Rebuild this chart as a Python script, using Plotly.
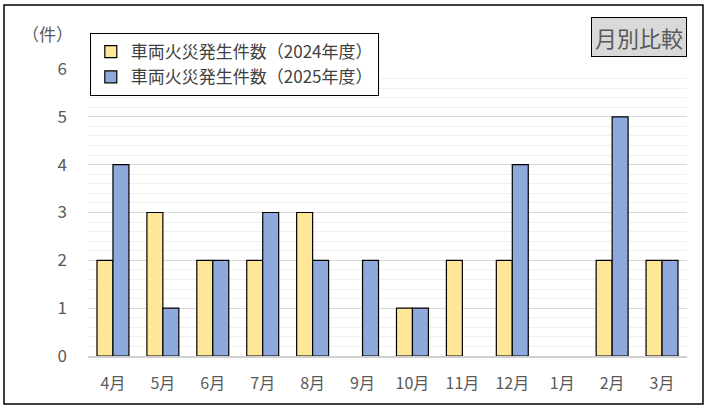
import plotly.graph_objects as go

# Data
months = ["4月", "5月", "6月", "7月", "8月", "9月", "10月", "11月", "12月", "1月", "2月", "3月"]
fires_2024 = [2, 3, 2, 2, 3, 0, 1, 2, 2, 0, 2, 2]
fires_2025 = [4, 1, 2, 3, 2, 2, 1, 0, 4, 0, 5, 2]

FONT = "Noto Sans CJK JP"
TEXT = "#595959"


def no_zero(vals):
    # zero counts draw no bar at all (no outline stub on the axis)
    return [v if v else None for v in vals]


fig = go.Figure()
fig.add_trace(go.Bar(x=months, y=no_zero(fires_2024), name="車両火災発生件数（2024年度）",
                     marker=dict(color="#FFE699", line=dict(color="black", width=1.2))))
fig.add_trace(go.Bar(x=months, y=no_zero(fires_2025), name="車両火災発生件数（2025年度）",
                     marker=dict(color="#8EA9DB", line=dict(color="black", width=1.2))))

fig.update_layout(
    width=710, height=410,
    margin=dict(l=88, r=23, t=69, b=54),
    paper_bgcolor="white", plot_bgcolor="white",
    font=dict(family=FONT, color=TEXT, size=16),
    barmode="group", bargap=0.36, bargroupgap=0,
    showlegend=True,
    legend=dict(x=0.003, y=1.125, xanchor="left", yanchor="top",
                bgcolor="white", bordercolor="black", borderwidth=1,
                font=dict(size=17, color="#404040"), tracegroupgap=0),
    xaxis=dict(showline=True, linecolor="#d0d0d0", linewidth=1.5, ticks="",
               tickfont=dict(size=16, color=TEXT), ticklabelstandoff=12),
    yaxis=dict(range=[0, 6], dtick=1, showline=False, zeroline=False,
               gridcolor="#d9d9d9", gridwidth=1,
               minor=dict(dtick=0.2, showgrid=True, gridcolor="#f0f0f0", gridwidth=1),
               tickfont=dict(size=17, color=TEXT), ticklabelstandoff=20),
)

fig.add_annotation(text="（件）", xref="paper", yref="paper", x=-0.067, y=1.125,
                   xanchor="center", yanchor="middle", showarrow=False,
                   font=dict(size=17, color=TEXT))
fig.add_annotation(text="月別比較", xref="paper", yref="paper", x=1.0, y=1.112,
                   xanchor="right", yanchor="middle", showarrow=False,
                   bgcolor="#d9d9d9", bordercolor="black", borderwidth=1, borderpad=3,
                   font=dict(size=22, color=TEXT))

# outer frame
fig.add_shape(type="rect", xref="paper", yref="paper",
              x0=-0.1402, x1=1.0267, y0=-0.1672, y1=1.223,
              line=dict(color="black", width=1.5), layer="below")

fig.write_html("out.html", config={"displayModeBar": False},
               post_script="document.body.style.margin='0';")
